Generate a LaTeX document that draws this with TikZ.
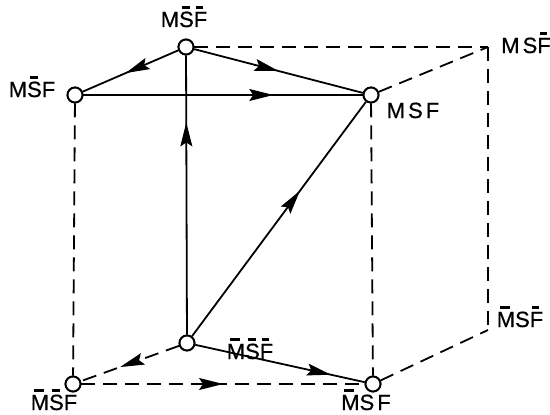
\documentclass[tikz,border=0pt]{standalone}
\usepackage{fontspec}
\setmainfont{Liberation Sans}[LetterSpace=14,FakeBold=0.6]
\usetikzlibrary{arrows.meta,decorations.markings}
\newcommand\ob[1]{\setbox0\hbox{#1}\rlap{\hbox to \wd0{\hss\vrule height 1.36\ht0 depth -1.2\ht0 width 0.55\wd0\hss\hskip 0.12\wd0}}\box0}
\tikzset{
  vtx/.style={circle,draw,fill=white,line width=1.9pt,minimum size=15pt,inner sep=0pt},
  edge/.style={line width=1.8pt},
  dedge/.style={line width=1.8pt,dash pattern=on 14pt off 8pt},
  lab/.style={font=\fontsize{22}{22}\selectfont,inner sep=0pt,anchor=base},
  midarrow/.style={postaction={decorate},decoration={markings,
     mark=at position #1 with {\arrow[line width=1pt]{Stealth[length=24pt,width=12pt,inset=4pt]}}}}
}
\begin{document}
\begin{tikzpicture}[x=1pt,y=-1pt]
\useasboundingbox (0,0) rectangle (550,415);
% vertices
\node[vtx] (A) at (186,47) {};
\node[vtx] (B) at (75,95) {};
\node[vtx] (C) at (371,95) {};
\node[vtx] (E) at (187,343) {};
\node[vtx] (L) at (73,384) {};
\node[vtx] (R) at (373,384) {};
\coordinate (D) at (488,47);
\coordinate (G) at (488,330);
% dashed edges
\draw[dedge] (A) -- (D);
\draw[dedge] (C) -- (D);
\draw[dedge] (D) -- (G);
\draw[dedge] (R) -- (G);
\draw[dedge] (B) -- (L);
\draw[dedge] (C) -- (R);
\draw[dedge,midarrow=0.5] (L) -- (R);
\draw[dedge,midarrow=0.6] (E) -- (L);
% solid edges
\draw[edge,midarrow=0.55] (A) -- (B);
\draw[edge,midarrow=0.5] (A) -- (C);
\draw[edge,midarrow=0.68] (B) -- (C);
\draw[edge,midarrow=0.76] (E) -- (A);
\draw[edge,midarrow=0.62] (E) -- (C);
\draw[edge,midarrow=0.8] (E) -- (R);
% redraw vertices on top
\foreach \n in {A,B,C,E,L,R} \node[vtx] at (\n) {};
% labels
\node[lab] (lA) at (184,27) {M\ob{S}\ob{F}};
\node[lab] (lB) at (32,97) {M\ob{S}F};
\node[lab] (lD) at (526,53) {MS\ob{F}};
\node[lab] (lC) at (413,118) {MSF};
\node[lab] (lE) at (250,359) {\ob{M}\ob{S}\ob{F}};
\node[lab] (lG) at (520,327) {\ob{M}S\ob{F}};
\node[lab] (lL) at (54,410) {\ob{M}\ob{S}F};
\node[lab] (lR) at (366,410) {\ob{M}SF};
\end{tikzpicture}
\end{document}
